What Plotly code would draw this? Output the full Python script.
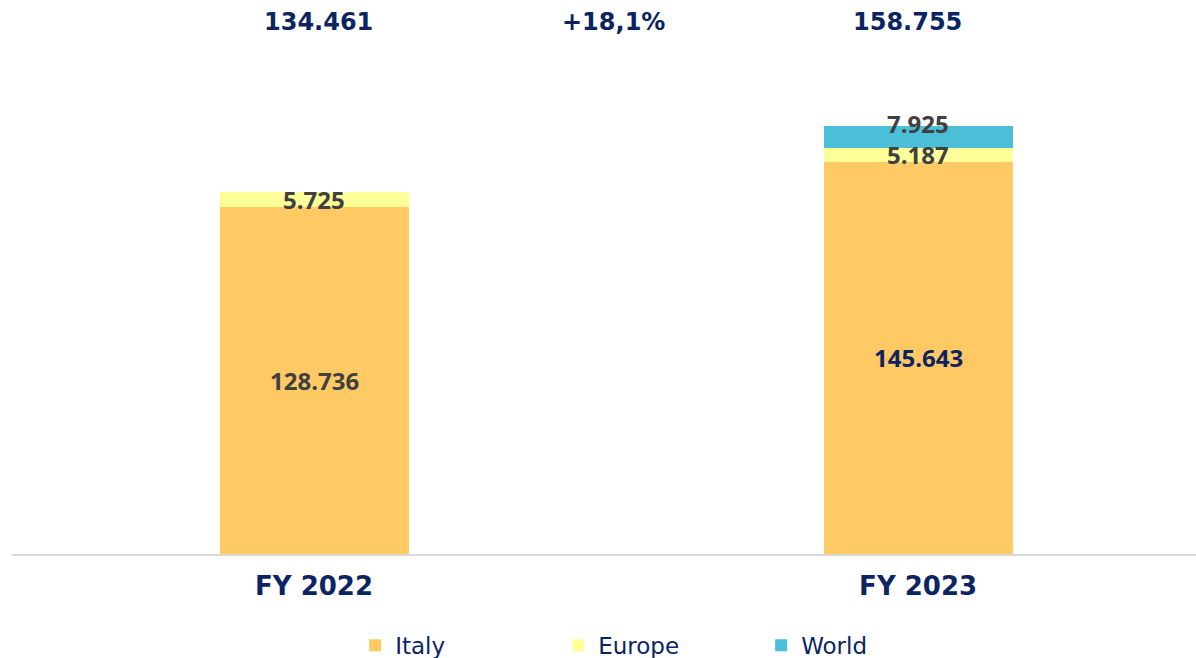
import plotly.graph_objects as go

categories = ["FY 2022", "FY 2023"]
italy = [128736, 145643]
europe = [5725, 5187]
world = [None, 7925]
totals = [134461, 158755]
growth_label = "+18,1%"

NAVY = "#0C2461"
GREY = "#404040"
C_ITALY = "#FFC964"
C_EUROPE = "#FFFF99"
C_WORLD = "#4BBFD8"

def fmt(v):
    return f"{v:,}".replace(",", ".")

fig = go.Figure()
for name, vals, col in [("Italy", italy, C_ITALY), ("Europe", europe, C_EUROPE), ("World", world, C_WORLD)]:
    fig.add_trace(go.Bar(x=categories, y=vals, name=name, marker=dict(color=col, line=dict(width=0)),
                         width=0.313, hoverinfo="skip"))

ann = []
lab_font = dict(family="Open Sans", size=24, color=GREY, weight="bold")
top_font = dict(family="DejaVu Sans", size=24, color=NAVY, weight="bold")
top_shift = [4, -11]
for i, c in enumerate(categories):
    col = NAVY if i == 1 else GREY
    ann.append(dict(x=c, y=italy[i] / 2, text=fmt(italy[i]), showarrow=False,
                    font=dict(family="Open Sans", size=24, color=col, weight="bold")))
    ann.append(dict(x=c, y=italy[i] + europe[i] / 2, text=fmt(europe[i]), showarrow=False, font=lab_font))
    if world[i]:
        ann.append(dict(x=c, y=italy[i] + europe[i] + world[i] / 2, text=fmt(world[i]), showarrow=False,
                        font=lab_font, yshift=13))
    ann.append(dict(x=c, y=1, yref="paper", yanchor="top", yshift=-6, xshift=top_shift[i],
                    text=fmt(totals[i]), showarrow=False, font=top_font))
ann.append(dict(x=0.495, y=1, yref="paper", yanchor="top", yshift=-6, text=growth_label, showarrow=False,
                font=top_font))

fig.update_layout(
    barmode="stack",
    width=1196, height=658,
    margin=dict(l=12, r=0, t=0, b=104, autoexpand=False),
    plot_bgcolor="white", paper_bgcolor="white",
    annotations=ann,
    xaxis=dict(range=[-0.5, 1.46], showline=True, linecolor="#D9D9D9", linewidth=2, automargin=False,
               showgrid=False, ticks="", tickfont=dict(family="DejaVu Sans", size=26, color=NAVY, weight="bold")),
    yaxis=dict(range=[0, 205570], visible=False, showgrid=False, zeroline=False),
    legend=dict(orientation="h", x=0.547, xanchor="center", y=-0.126, yanchor="top",
                entrywidth=158, entrywidthmode="pixels", traceorder="normal",
                font=dict(family="DejaVu Sans", size=23, color=NAVY)),
)
fig.update_xaxes(ticklabelstandoff=8)
fig.write_html("out.html", config={"displayModeBar": False},
               post_script="document.body.style.margin='0px';")
